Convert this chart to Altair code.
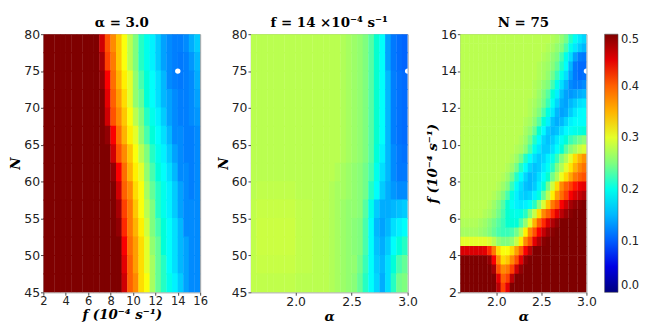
import altair as alt
import pandas as pd

# ---------------- colour map (jet, 0 .. 0.5) ----------------
jet_stops = [0.0, 0.0625, 0.125, 0.1875, 0.25, 0.3125, 0.375, 0.4375, 0.5]
jet_colors = ["#00007f", "#0000ff", "#007fff", "#00ffff", "#7fff7f",
              "#ffff00", "#ff7f00", "#ff0000", "#7f0000"]
cbar_ticks = [0.0, 0.1, 0.2, 0.3, 0.4, 0.5]

# ---------------- panel 1: alpha = 3.0 (x = f, y = N) ----------------
p1_f = [2.25, 2.75, 3.25, 3.75, 4.25, 4.75, 5.25, 5.75, 6.25, 6.75, 7.25, 7.75, 8.25, 8.75,
        9.25, 9.75, 10.25, 10.75, 11.25, 11.75, 12.25, 12.75, 13.25, 13.75, 14.25, 14.75, 15.25, 15.75]
p1_N = [78.75, 76.25, 73.75, 71.25, 68.75, 66.25, 63.75, 61.25, 58.75, 56.25, 53.75, 51.25, 48.75, 46.25]
p1_values = [
    [0.5, 0.5, 0.5, 0.5, 0.5, 0.5, 0.5, 0.5, 0.5, 0.5, 0.46, 0.41, 0.37, 0.34, 0.31, 0.28, 0.25, 0.22, 0.20, 0.18, 0.16, 0.14, 0.13, 0.125, 0.125, 0.13, 0.145, 0.16],
    [0.5, 0.5, 0.5, 0.5, 0.5, 0.5, 0.5, 0.5, 0.5, 0.5, 0.48, 0.42, 0.38, 0.34, 0.31, 0.28, 0.25, 0.22, 0.20, 0.18, 0.16, 0.14, 0.13, 0.125, 0.12, 0.125, 0.135, 0.15],
    [0.5, 0.5, 0.5, 0.5, 0.5, 0.5, 0.5, 0.5, 0.5, 0.5, 0.49, 0.44, 0.39, 0.35, 0.32, 0.30, 0.26, 0.23, 0.21, 0.19, 0.17, 0.15, 0.13, 0.125, 0.12, 0.125, 0.13, 0.145],
    [0.5, 0.5, 0.5, 0.5, 0.5, 0.5, 0.5, 0.5, 0.5, 0.5, 0.5, 0.45, 0.40, 0.36, 0.33, 0.30, 0.26, 0.24, 0.21, 0.19, 0.17, 0.15, 0.14, 0.13, 0.125, 0.125, 0.13, 0.14],
    [0.5, 0.5, 0.5, 0.5, 0.5, 0.5, 0.5, 0.5, 0.5, 0.5, 0.5, 0.46, 0.41, 0.37, 0.34, 0.31, 0.28, 0.25, 0.22, 0.20, 0.18, 0.16, 0.14, 0.13, 0.125, 0.125, 0.13, 0.135],
    [0.5, 0.5, 0.5, 0.5, 0.5, 0.5, 0.5, 0.5, 0.5, 0.5, 0.5, 0.49, 0.44, 0.39, 0.35, 0.32, 0.30, 0.26, 0.23, 0.21, 0.19, 0.17, 0.15, 0.13, 0.13, 0.125, 0.125, 0.13],
    [0.5, 0.5, 0.5, 0.5, 0.5, 0.5, 0.5, 0.5, 0.5, 0.5, 0.5, 0.5, 0.46, 0.41, 0.37, 0.34, 0.31, 0.28, 0.25, 0.22, 0.20, 0.18, 0.16, 0.14, 0.13, 0.125, 0.125, 0.13],
    [0.5, 0.5, 0.5, 0.5, 0.5, 0.5, 0.5, 0.5, 0.5, 0.5, 0.5, 0.5, 0.49, 0.44, 0.39, 0.35, 0.32, 0.30, 0.26, 0.23, 0.21, 0.19, 0.17, 0.15, 0.13, 0.13, 0.125, 0.13],
    [0.5, 0.5, 0.5, 0.5, 0.5, 0.5, 0.5, 0.5, 0.5, 0.5, 0.5, 0.5, 0.5, 0.46, 0.40, 0.37, 0.33, 0.31, 0.27, 0.24, 0.22, 0.20, 0.18, 0.16, 0.14, 0.13, 0.125, 0.13],
    [0.5, 0.5, 0.5, 0.5, 0.5, 0.5, 0.5, 0.5, 0.5, 0.5, 0.5, 0.5, 0.5, 0.48, 0.42, 0.38, 0.34, 0.31, 0.28, 0.25, 0.22, 0.20, 0.18, 0.16, 0.14, 0.13, 0.13, 0.13],
    [0.5, 0.5, 0.5, 0.5, 0.5, 0.5, 0.5, 0.5, 0.5, 0.5, 0.5, 0.5, 0.5, 0.49, 0.43, 0.38, 0.35, 0.32, 0.29, 0.25, 0.23, 0.21, 0.19, 0.17, 0.15, 0.13, 0.13, 0.13],
    [0.5, 0.5, 0.5, 0.5, 0.5, 0.5, 0.5, 0.5, 0.5, 0.5, 0.5, 0.5, 0.5, 0.5, 0.44, 0.39, 0.36, 0.33, 0.30, 0.26, 0.24, 0.21, 0.19, 0.17, 0.15, 0.14, 0.13, 0.13],
    [0.5, 0.5, 0.5, 0.5, 0.5, 0.5, 0.5, 0.5, 0.5, 0.5, 0.5, 0.5, 0.5, 0.5, 0.45, 0.40, 0.36, 0.33, 0.30, 0.27, 0.24, 0.22, 0.19, 0.17, 0.15, 0.14, 0.13, 0.13],
    [0.5, 0.5, 0.5, 0.5, 0.5, 0.5, 0.5, 0.5, 0.5, 0.5, 0.5, 0.5, 0.5, 0.5, 0.46, 0.40, 0.37, 0.33, 0.31, 0.27, 0.24, 0.22, 0.20, 0.18, 0.16, 0.14, 0.13, 0.13],
]

# ---------------- panel 2: f = 14e-4 (x = alpha, y = N) ----------------
p2_alpha = [1.625, 1.675, 1.725, 1.775, 1.825, 1.875, 1.925, 1.975, 2.025, 2.075, 2.125, 2.175, 2.225, 2.275,
            2.325, 2.375, 2.425, 2.475, 2.525, 2.575, 2.625, 2.675, 2.725, 2.775, 2.825, 2.875, 2.925, 2.975]
p2_N = [78.75, 76.25, 73.75, 71.25, 68.75, 66.25, 63.75, 61.25, 58.75, 56.25, 53.75, 51.25, 48.75, 46.25]
p2_values = [
    [0.28, 0.28, 0.28, 0.28, 0.28, 0.28, 0.28, 0.28, 0.28, 0.28, 0.28, 0.28, 0.28, 0.28, 0.28, 0.28, 0.275, 0.27, 0.265, 0.26, 0.25, 0.235, 0.215, 0.19, 0.14, 0.12, 0.11, 0.105],
    [0.28, 0.28, 0.28, 0.28, 0.28, 0.28, 0.28, 0.28, 0.28, 0.28, 0.28, 0.28, 0.28, 0.28, 0.28, 0.28, 0.275, 0.27, 0.265, 0.26, 0.25, 0.235, 0.215, 0.19, 0.14, 0.12, 0.11, 0.105],
    [0.28, 0.28, 0.28, 0.28, 0.28, 0.28, 0.28, 0.28, 0.28, 0.28, 0.28, 0.28, 0.28, 0.28, 0.28, 0.28, 0.275, 0.27, 0.265, 0.26, 0.25, 0.235, 0.215, 0.19, 0.15, 0.125, 0.115, 0.11],
    [0.28, 0.28, 0.28, 0.28, 0.28, 0.28, 0.28, 0.28, 0.28, 0.28, 0.28, 0.28, 0.28, 0.28, 0.28, 0.28, 0.275, 0.27, 0.265, 0.26, 0.25, 0.235, 0.215, 0.19, 0.15, 0.125, 0.115, 0.11],
    [0.28, 0.28, 0.28, 0.28, 0.28, 0.28, 0.28, 0.28, 0.28, 0.28, 0.28, 0.28, 0.28, 0.28, 0.28, 0.28, 0.275, 0.27, 0.265, 0.26, 0.25, 0.235, 0.215, 0.19, 0.15, 0.125, 0.115, 0.11],
    [0.28, 0.28, 0.28, 0.28, 0.28, 0.28, 0.28, 0.28, 0.28, 0.28, 0.28, 0.28, 0.28, 0.28, 0.28, 0.28, 0.275, 0.27, 0.265, 0.26, 0.25, 0.235, 0.215, 0.19, 0.15, 0.125, 0.115, 0.11],
    [0.28, 0.28, 0.28, 0.28, 0.28, 0.28, 0.28, 0.28, 0.28, 0.28, 0.28, 0.28, 0.28, 0.28, 0.28, 0.28, 0.275, 0.27, 0.265, 0.26, 0.25, 0.235, 0.21, 0.18, 0.15, 0.13, 0.12, 0.115],
    [0.28, 0.28, 0.28, 0.28, 0.28, 0.28, 0.28, 0.28, 0.28, 0.28, 0.28, 0.28, 0.28, 0.28, 0.28, 0.275, 0.27, 0.265, 0.26, 0.255, 0.245, 0.23, 0.20, 0.17, 0.15, 0.13, 0.12, 0.12],
    [0.28, 0.283, 0.283, 0.283, 0.283, 0.283, 0.283, 0.283, 0.28, 0.28, 0.28, 0.28, 0.28, 0.28, 0.275, 0.27, 0.27, 0.265, 0.26, 0.255, 0.245, 0.22, 0.19, 0.16, 0.145, 0.135, 0.13, 0.13],
    [0.283, 0.286, 0.286, 0.286, 0.286, 0.286, 0.286, 0.286, 0.283, 0.283, 0.283, 0.28, 0.28, 0.28, 0.275, 0.27, 0.265, 0.26, 0.26, 0.255, 0.235, 0.20, 0.16, 0.145, 0.145, 0.15, 0.155, 0.16],
    [0.283, 0.288, 0.288, 0.288, 0.288, 0.288, 0.288, 0.288, 0.283, 0.283, 0.283, 0.28, 0.28, 0.28, 0.275, 0.27, 0.265, 0.26, 0.255, 0.25, 0.23, 0.19, 0.15, 0.14, 0.15, 0.17, 0.18, 0.19],
    [0.283, 0.288, 0.288, 0.288, 0.288, 0.288, 0.288, 0.288, 0.283, 0.283, 0.283, 0.28, 0.28, 0.28, 0.275, 0.27, 0.265, 0.26, 0.255, 0.25, 0.23, 0.19, 0.155, 0.145, 0.16, 0.19, 0.21, 0.22],
    [0.283, 0.286, 0.286, 0.286, 0.286, 0.286, 0.286, 0.286, 0.283, 0.283, 0.283, 0.28, 0.28, 0.28, 0.275, 0.27, 0.265, 0.26, 0.26, 0.245, 0.225, 0.19, 0.16, 0.15, 0.17, 0.21, 0.23, 0.24],
    [0.283, 0.283, 0.283, 0.283, 0.283, 0.283, 0.283, 0.283, 0.28, 0.28, 0.28, 0.28, 0.28, 0.28, 0.275, 0.27, 0.265, 0.26, 0.255, 0.24, 0.22, 0.19, 0.165, 0.145, 0.17, 0.22, 0.245, 0.25],
]

# ---------------- panel 3: N = 75 (x = alpha, y = f) ----------------
p3_alpha = [1.625, 1.675, 1.725, 1.775, 1.825, 1.875, 1.925, 1.975, 2.025, 2.075, 2.125, 2.175, 2.225, 2.275,
            2.325, 2.375, 2.425, 2.475, 2.525, 2.575, 2.625, 2.675, 2.725, 2.775, 2.825, 2.875, 2.925, 2.975]
p3_f = [15.75, 15.25, 14.75, 14.25, 13.75, 13.25, 12.75, 12.25, 11.75, 11.25, 10.75, 10.25, 9.75, 9.25,
        8.75, 8.25, 7.75, 7.25, 6.75, 6.25, 5.75, 5.25, 4.75, 4.25, 3.75, 3.25, 2.75, 2.25]
p3_values = [
    [0.28, 0.28, 0.28, 0.28, 0.28, 0.28, 0.28, 0.28, 0.28, 0.28, 0.28, 0.28, 0.28, 0.28, 0.28, 0.28, 0.28, 0.28, 0.28, 0.28, 0.275, 0.27, 0.26, 0.245, 0.22, 0.195, 0.175, 0.165],
    [0.28, 0.28, 0.28, 0.28, 0.28, 0.28, 0.28, 0.28, 0.28, 0.28, 0.28, 0.28, 0.28, 0.28, 0.28, 0.28, 0.28, 0.28, 0.28, 0.275, 0.27, 0.26, 0.25, 0.23, 0.20, 0.175, 0.16, 0.15],
    [0.28, 0.28, 0.28, 0.28, 0.28, 0.28, 0.28, 0.28, 0.28, 0.28, 0.28, 0.28, 0.28, 0.28, 0.28, 0.28, 0.28, 0.28, 0.275, 0.27, 0.26, 0.25, 0.23, 0.20, 0.17, 0.14, 0.125, 0.12],
    [0.28, 0.28, 0.28, 0.28, 0.28, 0.28, 0.28, 0.28, 0.28, 0.28, 0.28, 0.28, 0.28, 0.28, 0.28, 0.28, 0.28, 0.275, 0.27, 0.265, 0.255, 0.24, 0.22, 0.19, 0.15, 0.12, 0.11, 0.11],
    [0.28, 0.28, 0.28, 0.28, 0.28, 0.28, 0.28, 0.28, 0.28, 0.28, 0.28, 0.28, 0.28, 0.28, 0.28, 0.28, 0.28, 0.275, 0.27, 0.26, 0.245, 0.225, 0.20, 0.17, 0.14, 0.12, 0.11, 0.115],
    [0.28, 0.28, 0.28, 0.28, 0.28, 0.28, 0.28, 0.28, 0.28, 0.28, 0.28, 0.28, 0.28, 0.28, 0.28, 0.28, 0.275, 0.27, 0.26, 0.25, 0.23, 0.20, 0.17, 0.15, 0.13, 0.125, 0.125, 0.13],
    [0.28, 0.28, 0.28, 0.28, 0.28, 0.28, 0.28, 0.28, 0.28, 0.28, 0.28, 0.28, 0.28, 0.28, 0.28, 0.28, 0.275, 0.265, 0.25, 0.235, 0.21, 0.18, 0.155, 0.14, 0.135, 0.14, 0.145, 0.15],
    [0.28, 0.28, 0.28, 0.28, 0.28, 0.28, 0.28, 0.28, 0.28, 0.28, 0.28, 0.28, 0.28, 0.28, 0.28, 0.275, 0.27, 0.26, 0.245, 0.225, 0.195, 0.165, 0.145, 0.14, 0.15, 0.16, 0.17, 0.175],
    [0.28, 0.28, 0.28, 0.28, 0.28, 0.28, 0.28, 0.28, 0.28, 0.28, 0.28, 0.28, 0.28, 0.28, 0.28, 0.275, 0.265, 0.25, 0.23, 0.205, 0.175, 0.15, 0.14, 0.145, 0.16, 0.175, 0.185, 0.19],
    [0.28, 0.28, 0.28, 0.28, 0.28, 0.28, 0.28, 0.28, 0.28, 0.28, 0.28, 0.28, 0.28, 0.28, 0.275, 0.27, 0.255, 0.235, 0.21, 0.18, 0.155, 0.145, 0.15, 0.165, 0.18, 0.19, 0.19, 0.19],
    [0.28, 0.28, 0.28, 0.28, 0.28, 0.28, 0.28, 0.28, 0.28, 0.28, 0.28, 0.28, 0.28, 0.28, 0.27, 0.26, 0.24, 0.215, 0.185, 0.16, 0.15, 0.155, 0.17, 0.185, 0.195, 0.20, 0.205, 0.21],
    [0.28, 0.28, 0.28, 0.28, 0.28, 0.28, 0.28, 0.28, 0.28, 0.28, 0.28, 0.28, 0.28, 0.275, 0.265, 0.245, 0.22, 0.19, 0.165, 0.155, 0.16, 0.175, 0.195, 0.21, 0.225, 0.235, 0.245, 0.255],
    [0.28, 0.28, 0.28, 0.28, 0.28, 0.28, 0.28, 0.28, 0.28, 0.28, 0.28, 0.28, 0.275, 0.27, 0.255, 0.23, 0.20, 0.175, 0.16, 0.16, 0.17, 0.19, 0.21, 0.235, 0.255, 0.27, 0.285, 0.295],
    [0.28, 0.28, 0.28, 0.28, 0.28, 0.28, 0.28, 0.28, 0.28, 0.28, 0.28, 0.275, 0.265, 0.245, 0.22, 0.19, 0.17, 0.16, 0.165, 0.18, 0.20, 0.225, 0.25, 0.275, 0.30, 0.33, 0.35, 0.365],
    [0.28, 0.28, 0.28, 0.28, 0.28, 0.28, 0.28, 0.28, 0.28, 0.28, 0.275, 0.265, 0.245, 0.22, 0.19, 0.165, 0.155, 0.16, 0.175, 0.195, 0.22, 0.25, 0.275, 0.30, 0.325, 0.35, 0.37, 0.385],
    [0.28, 0.28, 0.28, 0.28, 0.28, 0.28, 0.28, 0.28, 0.28, 0.275, 0.265, 0.245, 0.22, 0.19, 0.165, 0.15, 0.155, 0.17, 0.19, 0.215, 0.245, 0.275, 0.305, 0.33, 0.355, 0.38, 0.40, 0.41],
    [0.28, 0.28, 0.28, 0.28, 0.28, 0.28, 0.28, 0.28, 0.275, 0.265, 0.25, 0.225, 0.195, 0.17, 0.155, 0.15, 0.16, 0.18, 0.21, 0.245, 0.29, 0.33, 0.37, 0.40, 0.42, 0.435, 0.445, 0.45],
    [0.28, 0.28, 0.28, 0.28, 0.28, 0.28, 0.28, 0.275, 0.265, 0.25, 0.23, 0.205, 0.18, 0.165, 0.16, 0.165, 0.18, 0.205, 0.24, 0.28, 0.32, 0.36, 0.39, 0.42, 0.44, 0.455, 0.465, 0.475],
    [0.28, 0.28, 0.28, 0.28, 0.28, 0.28, 0.275, 0.265, 0.25, 0.235, 0.215, 0.195, 0.18, 0.175, 0.18, 0.195, 0.22, 0.255, 0.295, 0.34, 0.38, 0.41, 0.44, 0.46, 0.48, 0.49, 0.495, 0.5],
    [0.28, 0.28, 0.28, 0.28, 0.28, 0.275, 0.27, 0.26, 0.245, 0.23, 0.215, 0.205, 0.20, 0.205, 0.22, 0.25, 0.285, 0.33, 0.37, 0.40, 0.43, 0.45, 0.47, 0.485, 0.495, 0.5, 0.5, 0.5],
    [0.275, 0.275, 0.275, 0.275, 0.27, 0.265, 0.255, 0.245, 0.235, 0.225, 0.215, 0.21, 0.21, 0.23, 0.26, 0.30, 0.35, 0.40, 0.43, 0.455, 0.475, 0.49, 0.5, 0.5, 0.5, 0.5, 0.5, 0.5],
    [0.27, 0.27, 0.27, 0.27, 0.265, 0.26, 0.25, 0.24, 0.23, 0.225, 0.225, 0.23, 0.245, 0.275, 0.32, 0.37, 0.41, 0.44, 0.465, 0.485, 0.495, 0.5, 0.5, 0.5, 0.5, 0.5, 0.5, 0.5],
    [0.30, 0.30, 0.30, 0.30, 0.30, 0.30, 0.295, 0.28, 0.26, 0.25, 0.25, 0.26, 0.285, 0.32, 0.37, 0.41, 0.45, 0.475, 0.495, 0.5, 0.5, 0.5, 0.5, 0.5, 0.5, 0.5, 0.5, 0.5],
    [0.455, 0.455, 0.455, 0.455, 0.455, 0.45, 0.43, 0.38, 0.33, 0.31, 0.31, 0.33, 0.36, 0.40, 0.44, 0.47, 0.5, 0.5, 0.5, 0.5, 0.5, 0.5, 0.5, 0.5, 0.5, 0.5, 0.5, 0.5],
    [0.5, 0.5, 0.5, 0.5, 0.5, 0.5, 0.49, 0.44, 0.37, 0.33, 0.34, 0.37, 0.41, 0.45, 0.49, 0.5, 0.5, 0.5, 0.5, 0.5, 0.5, 0.5, 0.5, 0.5, 0.5, 0.5, 0.5, 0.5],
    [0.5, 0.5, 0.5, 0.5, 0.5, 0.5, 0.5, 0.48, 0.41, 0.37, 0.38, 0.42, 0.46, 0.49, 0.5, 0.5, 0.5, 0.5, 0.5, 0.5, 0.5, 0.5, 0.5, 0.5, 0.5, 0.5, 0.5, 0.5],
    [0.5, 0.5, 0.5, 0.5, 0.5, 0.5, 0.5, 0.5, 0.45, 0.40, 0.42, 0.47, 0.5, 0.5, 0.5, 0.5, 0.5, 0.5, 0.5, 0.5, 0.5, 0.5, 0.5, 0.5, 0.5, 0.5, 0.5, 0.5],
    [0.5, 0.5, 0.5, 0.5, 0.5, 0.5, 0.5, 0.5, 0.47, 0.42, 0.45, 0.5, 0.5, 0.5, 0.5, 0.5, 0.5, 0.5, 0.5, 0.5, 0.5, 0.5, 0.5, 0.5, 0.5, 0.5, 0.5, 0.5],
]

# optimum markers (white dots)
p1_dot = {"x": [14.0], "y": [75.0]}
p2_dot = {"x": [3.0], "y": [75.0]}
p3_dot = {"x": [3.0], "y": [14.0]}


def cells(xc, yc, rows, name):
    """One rect per grid value; rects overlap by a hair so no seams show."""
    if len(rows) != len(yc):
        raise ValueError(f"{name}: {len(rows)} rows vs {len(yc)} y")
    dx = abs(xc[1] - xc[0])
    dy = abs(yc[1] - yc[0])
    hx, hy = dx * 0.53, dy * 0.53
    recs = []
    for r, (yv, row) in enumerate(zip(yc, rows)):
        if len(row) != len(xc):
            raise ValueError(f"{name}: row {r} has {len(row)} values, expected {len(xc)}")
        for xv, v in zip(xc, row):
            recs.append({"x": xv - hx, "x2": xv + hx,
                         "y": yv - hy, "y2": yv + hy, "v": v})
    return pd.DataFrame(recs)


color_scale = alt.Scale(domain=jet_stops, range=jet_colors, type="linear", clamp=True)

TITLE_FONT = "DejaVu Serif"
PLOT_H = 270


def panel(df, dot, xdom, ydom, xvals, yvals, xfmt, yfmt, xtitle, ytitle, title, width,
          xlabel_size=13):
    xs = alt.Scale(domain=xdom, nice=False, zero=False)
    ys = alt.Scale(domain=ydom, nice=False, zero=False)
    xax = alt.Axis(values=xvals, format=xfmt, title=xtitle, labelFontSize=xlabel_size,
                   labelOverlap=False, labelFlush=False)
    yax = alt.Axis(values=yvals, format=yfmt, title=ytitle,
                   labelOverlap=False, labelFlush=False)
    heat = alt.Chart(df).mark_rect(strokeWidth=0, clip=True).encode(
        x=alt.X("x:Q", scale=xs, axis=xax),
        x2="x2:Q",
        y=alt.Y("y:Q", scale=ys, axis=yax),
        y2="y2:Q",
        color=alt.Color("v:Q", scale=color_scale,
                        legend=alt.Legend(type="gradient", values=cbar_ticks, format=".1f",
                                          title=None, direction="vertical",
                                          gradientLength=PLOT_H, gradientThickness=14,
                                          labelFontSize=12, offset=8, labelOffset=3,
                                          gradientStrokeColor="#555",
                                          gradientStrokeWidth=0.6)),
    )
    pts = alt.Chart(pd.DataFrame(dot)).mark_circle(
        color="white", opacity=1, size=32, clip=True
    ).encode(x=alt.X("x:Q", scale=xs, axis=xax), y=alt.Y("y:Q", scale=ys, axis=yax))
    return alt.layer(heat, pts).properties(
        width=width, height=PLOT_H,
        title=alt.TitleParams(title, font=TITLE_FONT, fontSize=14, fontWeight="bold",
                              offset=-1)
    )


df1 = cells(p1_f, p1_N, p1_values, "panel1")
df2 = cells(p2_alpha, p2_N, p2_values, "panel2")
df3 = cells(p3_alpha, p3_f, p3_values, "panel3")

c1 = panel(df1, p1_dot, [2, 16], [45, 80], [2, 4, 6, 8, 10, 12, 14, 16],
           [45, 50, 55, 60, 65, 70, 75, 80], "d", "d",
           "f (10⁻⁴ s⁻¹)", "N", "α = 3.0", 164, xlabel_size=12)
c2 = panel(df2, p2_dot, [1.6, 3.0], [45, 80], [2.0, 2.5, 3.0],
           [45, 50, 55, 60, 65, 70, 75, 80], ".1f", "d",
           "α", "N", "f = 14 ×10⁻⁴ s⁻¹", 164)
c3 = panel(df3, p3_dot, [1.6, 3.0], [2, 16], [2.0, 2.5, 3.0],
           [2, 4, 6, 8, 10, 12, 14, 16], ".1f", "d",
           "α", "f (10⁻⁴ s⁻¹)", "N = 75", 132)

chart = alt.hconcat(c1, c2, c3, spacing=7).resolve_scale(
    x="independent", y="independent", color="shared"
).properties(
    padding=0
).configure_view(
    stroke="#999", strokeWidth=1
).configure_axis(
    labelFont="DejaVu Sans", labelFontSize=13, labelColor="#222",
    titleFont=TITLE_FONT, titleFontSize=14, titleFontWeight="bold",
    titleFontStyle="italic", titleColor="#000",
    tickColor="#444", tickSize=3, domain=False, grid=False,
    labelPadding=1, titlePadding=1
).configure_legend(
    labelFont="DejaVu Sans", labelColor="#222"
)

chart.save("out.html", embed_options={"renderer": "svg", "actions": False})
